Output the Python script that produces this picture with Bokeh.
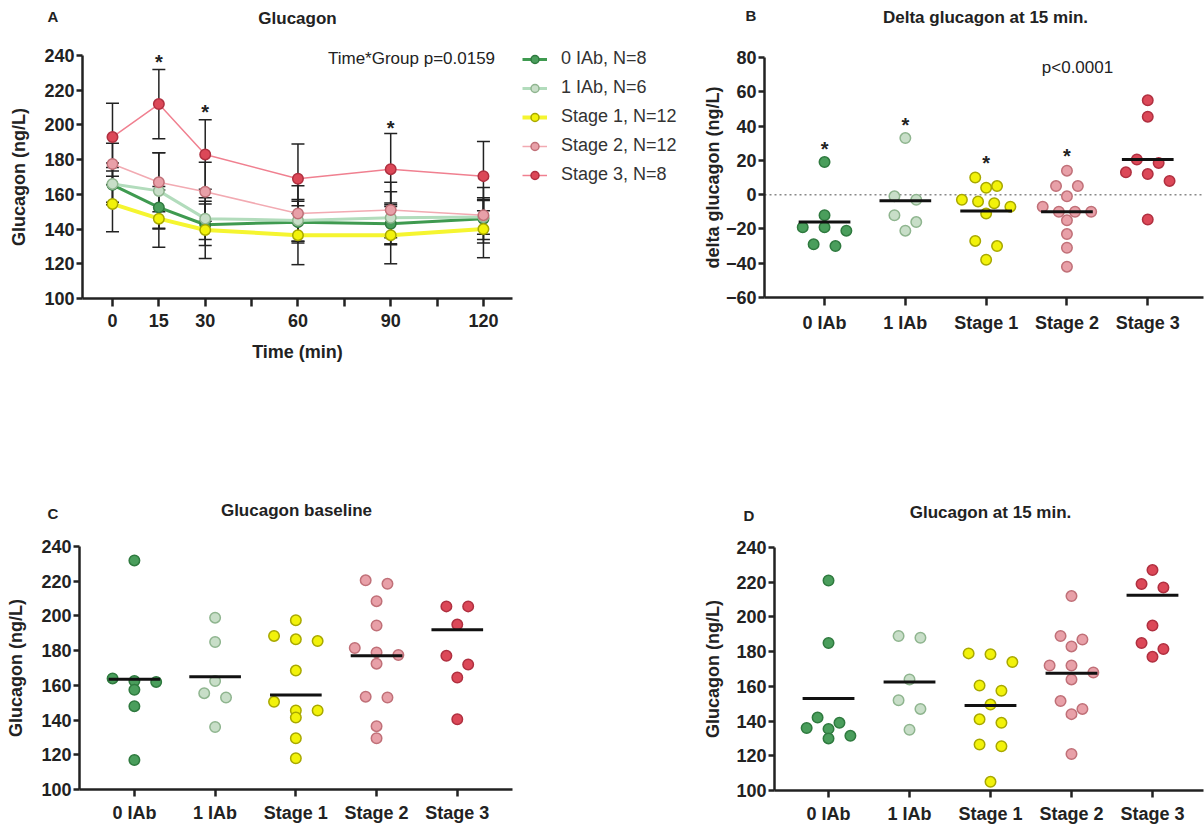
from bokeh.plotting import figure
from bokeh.layouts import column, row
from bokeh.models import Range1d, FixedTicker, Label, Legend, LegendItem
from bokeh.embed import file_html
from bokeh.resources import INLINE
from bokeh.core.properties import value

FONT = "Liberation Sans"
TXT = "#222222"

# ---------------- data ----------------
groups = ["0 IAb", "1 IAb", "Stage 1", "Stage 2", "Stage 3"]
legend_labels = ["0 IAb, N=8", "1 IAb, N=6", "Stage 1, N=12", "Stage 2, N=12", "Stage 3, N=8"]

# Panel A: glucagon over time (mean and SD)
times = [0, 15, 30, 60, 90, 120]
time_ticks = [0, 15, 30, 45, 60, 75, 90, 105, 120]
time_tick_labels = {0: "0", 15: "15", 30: "30", 45: "", 60: "60", 75: "", 90: "90", 105: "", 120: "120"}
mean_0iab = [165.5, 152.5, 142.5, 144.0, 143.0, 146.0]
mean_1iab = [166.0, 162.0, 146.0, 145.0, 146.5, 147.0]
mean_stage1 = [154.5, 146.0, 139.5, 136.5, 136.5, 140.0]
mean_stage2 = [177.5, 167.0, 161.5, 149.0, 151.0, 148.0]
mean_stage3 = [193.0, 212.0, 183.0, 169.0, 174.5, 170.5]
sd_0iab = [10.0, 12.0, 12.0, 12.0, 12.0, 12.0]
sd_1iab = [12.0, 22.0, 12.0, 12.0, 15.0, 10.0]
sd_stage1 = [16.0, 16.5, 16.5, 17.0, 16.5, 16.5]
sd_stage2 = [12.0, 17.0, 17.0, 16.0, 16.0, 16.0]
sd_stage3 = [19.5, 20.0, 20.0, 20.0, 20.5, 20.0]
starA_times = [15, 30, 90]
starA_y = [237, 208, 199]

# Panel B: delta glucagon at 15 min
delta_0iab = [19, -12, -19, -19, -21, -30, -29]
delta_1iab = [33, -3, -1, -12, -21, -16]
delta_stage1 = [10, 5, 4, -3, -4, -5, -7, -11, -27, -30, -38]
delta_stage2 = [14, 5, 5, -1, -7, -10, -10, -10, -15, -23, -31, -42]
delta_stage3 = [55, 45.5, 20.5, 18.5, 13, 12, 8, -14.5]
delta_median = [-16, -3.5, -9.5, -10, 20.5]
starB_group = [0, 1, 2, 3]
starB_y = [27, 41, 19, 23]

# Panel C: baseline
base_0iab = [232, 164, 162.5, 162, 157.5, 148, 117]
base_1iab = [199, 185, 162.5, 155.5, 153, 136]
base_stage1 = [197.5, 188.5, 186.5, 185.5, 168.5, 150.5, 145.5, 145.5, 141.5, 129.5, 118]
base_stage2 = [220.5, 218.5, 208.5, 194.5, 181.5, 179, 177.5, 172.5, 153.5, 153, 136.5, 129.5]
base_stage3 = [205.5, 205.5, 195, 177, 172, 164.5, 140.5]
base_median = [163.5, 165, 154.5, 177, 192]

# Panel D: at 15 min
g15_0iab = [221, 185, 142, 139, 136, 135.5, 131.5, 130]
g15_1iab = [189, 188, 164, 152, 147, 135]
g15_stage1 = [179, 178.5, 174, 160.5, 157.5, 149.5, 141, 139, 126.5, 125.5, 105]
g15_stage2 = [212, 189, 187, 183, 172, 172, 168, 164, 151.5, 147, 144, 121]
g15_stage3 = [227, 219, 217, 195, 185, 181.5, 177]
g15_median = [153, 162.5, 149, 167.5, 212.5]

# ---------------- styles ----------------
fills = ["#4a9e5c", "#c8dec8", "#f2f20a", "#e8a0a8", "#dc4858"]
edges = ["#2f7a3f", "#8fb58f", "#a8a800", "#c07078", "#b03040"]
lines = ["#3f9a50", "#b2dcbc", "#f5f530", "#f2aab2", "#f08090"]
lwidths = [3, 3, 4, 1.5, 1.5]


def make_fig(fig_box, axes_box, dx, dy):
    """fig_box / axes_box: (left, top, right, bottom) in page pixels."""
    fx0, fy0, fx1, fy1 = fig_box
    ax0, ay0, ax1, ay1 = axes_box
    ppx = (ax1 - ax0) / (dx[1] - dx[0])
    ppy = (ay1 - ay0) / (dy[1] - dy[0])
    xr = Range1d(dx[0] - (ax0 - fx0) / ppx, dx[1] + (fx1 - ax1) / ppx)
    yr = Range1d(dy[0] - (fy1 - ay1) / ppy, dy[1] + (ay0 - fy0) / ppy)
    p = figure(width=fx1 - fx0, height=fy1 - fy0, x_range=xr, y_range=yr,
               output_backend="svg", toolbar_location=None, title=None,
               min_border_left=0, min_border_right=0, min_border_top=0, min_border_bottom=0)
    p.xgrid.visible = False
    p.ygrid.visible = False
    p.outline_line_color = None
    p.background_fill_color = "white"
    p.border_fill_color = "white"
    xa, ya = p.xaxis[0], p.yaxis[0]
    xa.fixed_location = dy[0]
    xa.bounds = (dx[0], dx[1])
    ya.fixed_location = dx[0]
    ya.bounds = (dy[0], dy[1])
    p._box = fig_box
    return p


def style_axes(p, xticks, xover, yticks, ylabel, xlabel=None, xstand=7, ystand=8, xtick_out=8):
    xa, ya = p.xaxis[0], p.yaxis[0]
    xa.ticker = FixedTicker(ticks=xticks)
    xa.major_label_overrides = xover
    ya.ticker = FixedTicker(ticks=yticks)
    for ax in (xa, ya):
        ax.axis_line_width = 2.5
        ax.axis_line_color = "#222222"
        ax.major_tick_line_width = 2.5
        ax.major_tick_line_color = "#222222"
        ax.major_tick_in = 0
        ax.minor_tick_line_color = None
        ax.major_label_text_font = FONT
        ax.major_label_text_font_size = "18px"
        ax.major_label_text_font_style = "bold"
        ax.major_label_text_color = TXT
        ax.axis_label_text_font = FONT
        ax.axis_label_text_font_size = "18px"
        ax.axis_label_text_font_style = "bold"
        ax.axis_label_text_color = TXT
    ya.major_tick_out = 6
    ya.major_label_standoff = 2
    xa.major_tick_out = xtick_out
    xa.major_label_standoff = xstand
    ya.axis_label = ylabel
    ya.axis_label_standoff = ystand
    if xlabel:
        xa.axis_label = xlabel
        xa.axis_label_standoff = 12


def add_label(p, img_x, img_y, text, size="17px", bold=True, align="center"):
    fx0, fy0, fx1, fy1 = p._box
    p.add_layout(Label(x=img_x - fx0, y=fy1 - img_y, x_units="screen", y_units="screen", text=text,
                       text_font=FONT, text_font_size=size,
                       text_font_style="bold" if bold else "normal",
                       text_color=TXT, text_align=align, text_baseline="middle"))


def swarm(vals, cat, ppu, thresh=9.0, step=0.27, maxw=0.6):
    order = sorted(range(len(vals)), key=lambda i: -vals[i])
    rows = []
    for i in order:
        if rows and (vals[rows[-1][0]] - vals[i]) * ppu < thresh:
            rows[-1].append(i)
        else:
            rows.append([i])
    xs = [float(cat)] * len(vals)
    for r in rows:
        n = len(r)
        s = step if n < 2 else min(step, maxw / (n - 1))
        for k, i in enumerate(r):
            xs[i] = cat + (k - (n - 1) / 2) * s
    return xs


def scatter_panel(p, series, medians, ppu):
    for gi, vals in enumerate(series):
        xs = swarm(vals, gi, ppu)
        p.scatter(xs, vals, size=10.5, fill_color=fills[gi], line_color=edges[gi], line_width=1.5)
    p.segment(x0=[i - 0.32 for i in range(len(medians))], y0=medians,
              x1=[i + 0.32 for i in range(len(medians))], y1=medians,
              line_color="#111111", line_width=3)


def add_stars(p, xs, ys):
    p.text(x=xs, y=ys, text=["*"] * len(xs), text_font=value(FONT),
           text_font_size="20px", text_font_style="bold", text_color=TXT,
           text_align="center", text_baseline="middle", y_offset=1)


cat_ticks = [0, 1, 2, 3, 4]
cat_over = {i: g for i, g in enumerate(groups)}

# boxes (left, top, right, bottom) in screenshot pixels
BOX_A, AX_A = (0, 0, 698, 380), (82, 55, 512, 298)
BOX_B, AX_B = (698, 0, 1204, 380), (764, 57, 1203, 297)
BOX_C, AX_C = (0, 380, 698, 828), (79, 546, 512, 789)
BOX_D, AX_D = (698, 380, 1204, 828), (774, 547, 1203, 790)

# ---------------- Panel A ----------------
pA = make_fig(BOX_A, AX_A, (-9.7, 129.4), (100, 240))
means = [mean_0iab, mean_1iab, mean_stage1, mean_stage2, mean_stage3]
sds = [sd_0iab, sd_1iab, sd_stage1, sd_stage2, sd_stage3]
for m, s in zip(means, sds):
    lo = [a - b for a, b in zip(m, s)]
    hi = [a + b for a, b in zip(m, s)]
    pA.segment(times, lo, times, hi, line_color="#222222", line_width=1.5)
    pA.scatter(times, lo, marker="dash", size=13, line_color="#222222", line_width=1.5)
    pA.scatter(times, hi, marker="dash", size=13, line_color="#222222", line_width=1.5)
items = []
for gi, m in enumerate(means):
    lr = pA.line(times, m, line_color=lines[gi], line_width=lwidths[gi])
    sr = pA.scatter(times, m, size=10.5, fill_color=fills[gi], line_color=edges[gi], line_width=1.5)
    items.append(LegendItem(label=legend_labels[gi], renderers=[lr, sr]))
add_stars(pA, starA_times, starA_y)
legend = Legend(items=items, location=(522, 380 - 185), orientation="vertical",
                border_line_color=None, background_fill_alpha=0,
                label_text_font=FONT, label_text_font_size="18px", label_text_color="#333333",
                glyph_width=25, glyph_height=20, label_height=20, label_standoff=14,
                spacing=8, padding=0, margin=0)
pA.add_layout(legend)
style_axes(pA, time_ticks, time_tick_labels, list(range(100, 241, 20)), "Glucagon (ng/L)",
           xlabel="Time (min)", xstand=7, ystand=12)
add_label(pA, 47, 16, "A", size="15px", align="left")
add_label(pA, 297, 18, "Glucagon")
add_label(pA, 411, 58, "Time*Group p=0.0159", bold=False)

# ---------------- Panel B ----------------
pB = make_fig(BOX_B, AX_B, (-0.743, 4.69), (-60, 80))
pB.segment(x0=[-0.743], y0=[0], x1=[4.69], y1=[0], line_color="#888888", line_width=1.5,
           line_dash="2 3")
scatter_panel(pB, [delta_0iab, delta_1iab, delta_stage1, delta_stage2, delta_stage3],
              delta_median, 240 / 140)
add_stars(pB, starB_group, starB_y)
style_axes(pB, cat_ticks, cat_over, list(range(-60, 81, 20)), "delta glucagon (ng/L)",
           xstand=7, ystand=0)
add_label(pB, 745, 15, "B", size="15px", align="left")
add_label(pB, 985, 17, "Delta glucagon at 15 min.")
add_label(pB, 1077, 67, "p<0.0001", bold=False)

# ---------------- Panel C ----------------
pC = make_fig(BOX_C, AX_C, (-0.68, 4.684), (100, 240))
scatter_panel(pC, [base_0iab, base_1iab, base_stage1, base_stage2, base_stage3],
              base_median, 243 / 140)
style_axes(pC, cat_ticks, cat_over, list(range(100, 241, 20)), "Glucagon (ng/L)",
           xstand=6, ystand=12, xtick_out=7)
add_label(pC, 47, 513, "C", size="15px", align="left")
add_label(pC, 296, 510, "Glucagon baseline")

# ---------------- Panel D ----------------
pD = make_fig(BOX_D, AX_D, (-0.667, 4.63), (100, 240))
scatter_panel(pD, [g15_0iab, g15_1iab, g15_stage1, g15_stage2, g15_stage3],
              g15_median, 243 / 140)
style_axes(pD, cat_ticks, cat_over, list(range(100, 241, 20)), "Glucagon (ng/L)",
           xstand=6, ystand=10, xtick_out=7)
add_label(pD, 743, 515, "D", size="15px", align="left")
add_label(pD, 990, 512, "Glucagon at 15 min.")

layout = column(row(pA, pB), row(pC, pD))
open("out.html", "w").write(file_html(layout, INLINE))
